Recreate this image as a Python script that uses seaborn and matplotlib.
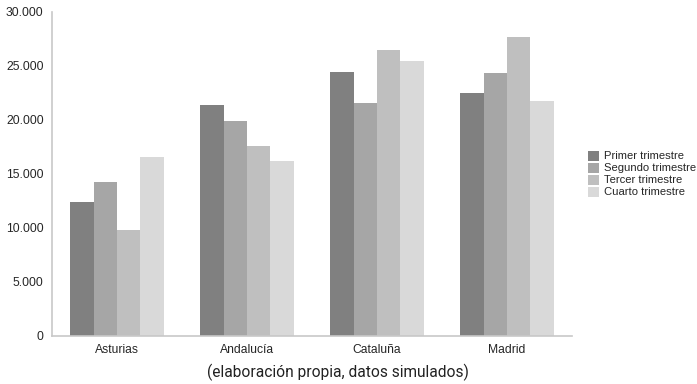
import numpy as np
import pandas as pd
import seaborn as sns
import matplotlib.pyplot as plt
from matplotlib.ticker import FuncFormatter

regiones = ["Asturias", "Andalucía", "Cataluña", "Madrid"]
trimestres = ["Primer trimestre", "Segundo trimestre", "Tercer trimestre", "Cuarto trimestre"]
primer = [12450, 21350, 24450, 22500]
segundo = [14250, 19880, 21580, 24330]
tercer = [9840, 17620, 26500, 27650]
cuarto = [16550, 16230, 25430, 21760]
colores = ["#808080", "#a6a6a6", "#bfbfbf", "#d9d9d9"]

df = pd.DataFrame({
    "region": regiones * 4,
    "trimestre": np.repeat(trimestres, 4),
    "valor": primer + segundo + tercer + cuarto,
})

sns.set_style("white")
plt.rcParams["font.family"] = ["Liberation Sans", "DejaVu Sans"]

fig = plt.figure(figsize=(6.97, 3.84), dpi=100)
ax = fig.add_axes([52 / 697, 48 / 384, 520 / 697, 324 / 384])

sns.barplot(data=df, x="region", y="valor", hue="trimestre", palette=colores,
            width=0.72, saturation=1, ax=ax, linewidth=0)

ax.set_ylim(0, 30000)
ax.set_yticks(range(0, 30001, 5000))
ax.yaxis.set_major_formatter(FuncFormatter(lambda v, p: f"{int(v):,}".replace(",", ".")))
ax.set_xlabel("")
ax.set_ylabel("")
ax.tick_params(axis="y", length=3, width=0.8, color="#c8c8c8", labelsize=8.7, pad=3)
ax.tick_params(axis="x", length=0, labelsize=8.7, pad=6)
for s in ["top", "right"]:
    ax.spines[s].set_visible(False)
for s in ["left", "bottom"]:
    ax.spines[s].set_color("#c8c8c8")
    ax.spines[s].set_linewidth(1.2)

ax.legend(title=None, loc="center left", bbox_to_anchor=(1.03, 0.5), frameon=False,
          fontsize=8.1, handlelength=1.0, handleheight=1.0, handletextpad=0.5,
          labelspacing=0.1, borderpad=0, borderaxespad=0)

fig.text(338 / 697, 12 / 384, "(elaboración propia, datos simulados)", ha="center", va="center",
         fontsize=11.2, color="#222222", family=["Roboto", "DejaVu Sans"])

fig.savefig("out.png", dpi=100)
